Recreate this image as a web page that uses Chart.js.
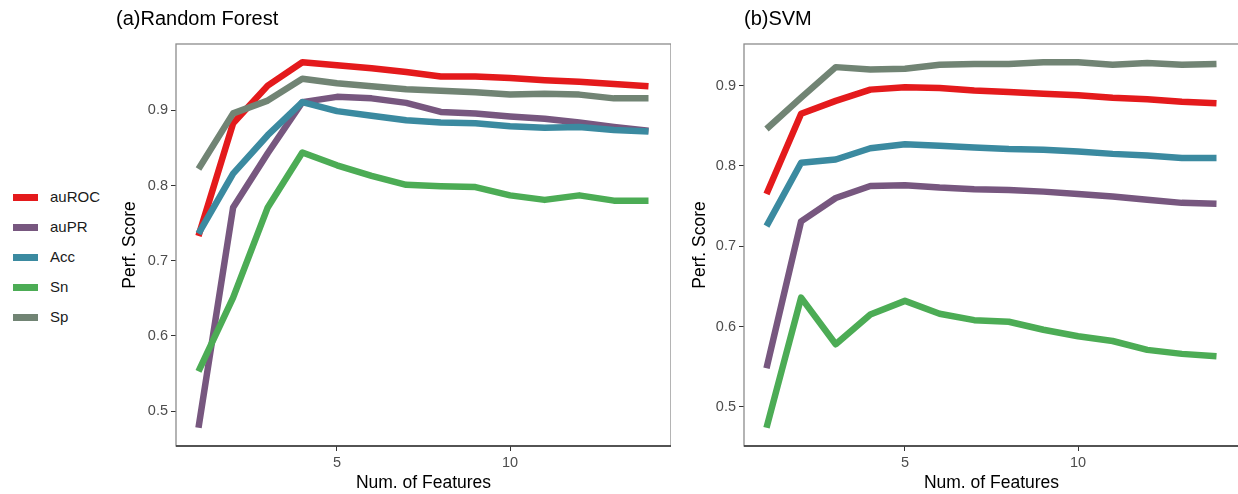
<!DOCTYPE html>
<html>
<head>
<meta charset="utf-8">
<script src="https://cdn.jsdelivr.net/npm/chart.js@4"></script>
<style>
  body { margin: 0; background: #fff; width: 1238px; height: 494px; overflow: hidden; position: relative; font-family: 'Liberation Sans', Arial, sans-serif; }
  canvas { position: absolute; top: 0; }
  #rf { left: 116px; }
  #svm { left: 686px; }
  .key { position: absolute; left: 13px; width: 25px; height: 7px; }
  .lab { position: absolute; left: 50px; font-size: 15px; color: #1a1a1a; line-height: 18px; }
</style>
</head>
<body>
<canvas id="rf" width="555" height="494"></canvas>
<canvas id="svm" width="553" height="494"></canvas>
<div id="legend"></div>
<script>
// data
const features = [1, 2, 3, 4, 5, 6, 7, 8, 9, 10, 11, 12, 13, 14];
const metrics = ['auROC', 'auPR', 'Acc', 'Sn', 'Sp'];
const colors = ['#E41A1C', '#77577F', '#3B8AA0', '#4CAC55', '#718474'];

const rfAuROC = [0.733, 0.883, 0.933, 0.964, 0.960, 0.956, 0.951, 0.945, 0.945, 0.943, 0.940, 0.938, 0.935, 0.932];
const rfAuPR  = [0.478, 0.771, 0.843, 0.911, 0.918, 0.916, 0.910, 0.898, 0.896, 0.892, 0.889, 0.884, 0.878, 0.873];
const rfAcc   = [0.736, 0.816, 0.867, 0.911, 0.899, 0.893, 0.887, 0.884, 0.883, 0.879, 0.877, 0.878, 0.874, 0.872];
const rfSn    = [0.553, 0.651, 0.771, 0.844, 0.827, 0.813, 0.801, 0.799, 0.798, 0.787, 0.781, 0.787, 0.780, 0.780];
const rfSp    = [0.822, 0.896, 0.913, 0.942, 0.936, 0.932, 0.928, 0.926, 0.924, 0.921, 0.922, 0.921, 0.916, 0.916];

const svmAuROC = [0.765, 0.865, 0.881, 0.895, 0.898, 0.897, 0.894, 0.892, 0.890, 0.888, 0.885, 0.883, 0.880, 0.878];
const svmAuPR  = [0.548, 0.731, 0.760, 0.775, 0.776, 0.773, 0.771, 0.770, 0.768, 0.765, 0.762, 0.758, 0.754, 0.753];
const svmAcc   = [0.725, 0.804, 0.808, 0.822, 0.827, 0.825, 0.823, 0.821, 0.820, 0.818, 0.815, 0.813, 0.810, 0.810];
const svmSn    = [0.474, 0.636, 0.578, 0.615, 0.632, 0.616, 0.608, 0.606, 0.596, 0.588, 0.582, 0.571, 0.566, 0.563];
const svmSp    = [0.846, 0.885, 0.923, 0.920, 0.921, 0.926, 0.927, 0.927, 0.929, 0.929, 0.926, 0.928, 0.926, 0.927];

const xTicks = [5, 10];
const yTicks = [0.5, 0.6, 0.7, 0.8, 0.9];
const xRange = [0.35, 14.65];
const rfRange = [0.4537, 0.9883];
const svmRange = [0.4513, 0.9518];

const FONT = "'Liberation Sans', Arial, sans-serif";

// panel border (ggplot-like box)
const boxPlugin = {
    id: 'box',
    afterDatasetsDraw(chart) {
        const { ctx, chartArea: a } = chart;
        ctx.save();
        ctx.strokeStyle = '#8c8c8c';
        ctx.lineWidth = 1.3;
        ctx.strokeRect(a.left, a.top, a.right - a.left, a.bottom - a.top);
        ctx.strokeStyle = '#333';
        ctx.lineWidth = 1.6;
        ctx.beginPath();
        ctx.moveTo(a.left, a.bottom);
        ctx.lineTo(a.right + 1, a.bottom);
        ctx.stroke();
        ctx.restore();
    }
};

function makeChart(id, title, series, yRange, yWidth, fullTitle) {
    const datasets = series.map((vals, i) => ({
        label: metrics[i],
        data: features.map((x, j) => ({ x: x, y: vals[j] })),
        borderColor: colors[i],
        borderWidth: 6.5,
        borderJoinStyle: 'round',
        pointRadius: 0,
        tension: 0,
        order: metrics.length - i,
    }));

    return new Chart(document.getElementById(id), {
        type: 'line',
        data: { datasets },
        plugins: [boxPlugin],
        options: {
            responsive: false,
            animation: false,
            devicePixelRatio: 1,
            layout: { padding: 0 },
            plugins: {
                legend: { display: false },
                tooltip: { enabled: false },
                title: {
                    display: true,
                    text: title,
                    align: 'start',
                    fullSize: fullTitle,
                    color: '#000',
                    font: { family: FONT, size: 20, weight: 'normal' },
                    padding: { top: 7, bottom: 13 },
                },
            },
            scales: {
                x: {
                    type: 'linear',
                    min: xRange[0],
                    max: xRange[1],
                    afterBuildTicks: s => { s.ticks = xTicks.map(v => ({ value: v })); },
                    afterFit: s => { s.height = 48; },
                    border: { display: false },
                    grid: { drawOnChartArea: false, drawTicks: true, tickLength: 5, color: '#333' },
                    ticks: { color: '#4d4d4d', padding: 3, maxRotation: 0, font: { family: FONT, size: 14.5 } },
                    title: {
                        display: true,
                        text: 'Num. of Features',
                        color: '#000',
                        font: { family: FONT, size: 17.5 },
                        padding: { top: 0, bottom: 0 },
                    },
                },
                y: {
                    min: yRange[0],
                    max: yRange[1],
                    afterBuildTicks: s => { s.ticks = yTicks.map(v => ({ value: v })); },
                    afterFit: s => { s.width = yWidth; },
                    border: { display: false },
                    grid: { drawOnChartArea: false, drawTicks: true, tickLength: 5, color: '#333' },
                    ticks: { color: '#4d4d4d', padding: 3, callback: v => v.toFixed(1), font: { family: FONT, size: 14.5 } },
                    title: {
                        display: true,
                        text: 'Perf. Score',
                        color: '#000',
                        font: { family: FONT, size: 17.5 },
                        padding: { top: 3.5, bottom: 0 },
                    },
                },
            },
        },
    });
}

makeChart('rf', '(a)Random Forest', [rfAuROC, rfAuPR, rfAcc, rfSn, rfSp], rfRange, 60, true);
makeChart('svm', '(b)SVM', [svmAuROC, svmAuPR, svmAcc, svmSn, svmSp], svmRange, 58, false);

// shared legend on the left
const legend = document.getElementById('legend');
const keyY = [197, 227, 257, 287, 317];
metrics.forEach((m, i) => {
    const k = document.createElement('div');
    k.className = 'key';
    k.style.top = (keyY[i] - 3.5) + 'px';
    k.style.background = colors[i];
    legend.appendChild(k);
    const l = document.createElement('div');
    l.className = 'lab';
    l.style.top = (keyY[i] - 9) + 'px';
    l.textContent = m;
    legend.appendChild(l);
});
</script>
</body>
</html>
